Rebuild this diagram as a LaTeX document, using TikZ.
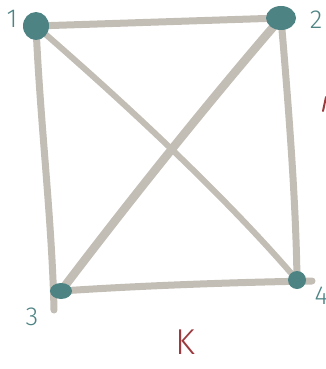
\documentclass[tikz,border=0pt]{standalone}
\usepackage{fontspec}
\setmainfont{Fira Sans}
\definecolor{edgec}{HTML}{C2BDB5}
\definecolor{nodec}{HTML}{4E8384}
\definecolor{labc}{HTML}{4E8384}
\definecolor{redc}{HTML}{9C3A3E}
\begin{document}
\begin{tikzpicture}[x=1pt,y=-1pt,
  edge/.style={draw=edgec,line width=7pt,line cap=round},
  lab/.style={text=labc,font=\fontsize{26}{26}\selectfont\fontspec{Fira Sans Light}},
]
\useasboundingbox (0,0) rectangle (326,369);
\coordinate (n1) at (36,26);
\coordinate (n2) at (281,18);
\coordinate (n3) at (61,291);
\coordinate (n4) at (297,280);
\coordinate (e3) at (54,310);
\coordinate (e4) at (312,281);
% edges
\draw[edge] (n1) -- (n2);
\draw[edge] (n1) .. controls (40,120) and (52,220) .. (e3);
\draw[edge] (n2) .. controls (288,100) and (296,200) .. (n4);
\draw[edge,line width=6pt] (n1) .. controls (110,90) and (220,190) .. (n4);
\draw[edge,line width=8.5pt] (n2) .. controls (210,100) and (130,200) .. (n3);
\draw[edge] (n3) .. controls (150,285) and (250,282) .. (e4);
% vertices
\fill[nodec] (n1) ellipse [x radius=13, y radius=14];
\fill[nodec] (n2) ellipse [x radius=15, y radius=12];
\fill[nodec] (n3) ellipse [x radius=11, y radius=8];
\fill[nodec] (n4) ellipse [x radius=9, y radius=9];
% labels
\node[lab] (l1) at (12,19) {1};
\node[lab] (l2) at (316,20) {2};
\node[lab] (l3) at (32,317) {3};
\node[lab,anchor=west] (l4) at (311,296) {4};
\node[text=redc,font=\fontsize{36}{36}\selectfont\fontspec{Fira Sans Light}] (k) at (185,342) {K};
\draw[redc,line width=2pt,line cap=round] (326,97) -- (323,111);
\end{tikzpicture}
\end{document}
